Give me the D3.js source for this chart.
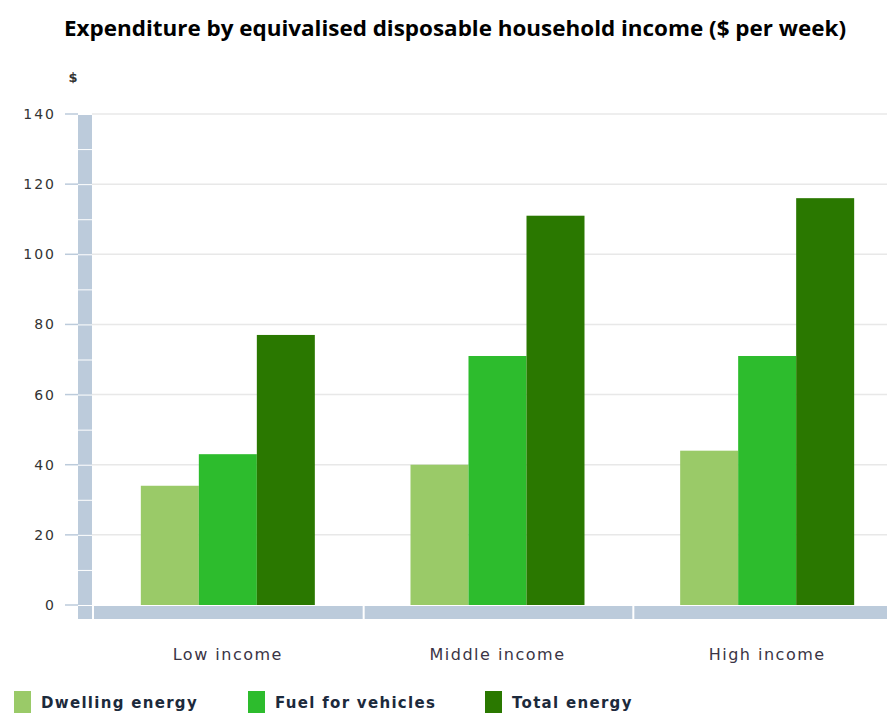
<!DOCTYPE html>
<html>
<head>
<meta charset="utf-8">
<script src="https://cdn.jsdelivr.net/npm/d3@7"></script>
<style>
  body { margin: 0; background: #fff; overflow: hidden; }
</style>
</head>
<body>
<div id="vis"></div>
<script>
// chart data
const categories = ["Low income", "Middle income", "High income"];
const seriesNames = ["Dwelling energy", "Fuel for vehicles", "Total energy"];
const dwelling = [34, 40, 44];
const fuel = [43, 71, 71];
const total = [77, 111, 116];
const yTicks = [0, 20, 40, 60, 80, 100, 120, 140];
const colors = ["#9aca68", "#2dbc2d", "#2a7800"];

const W = 887, H = 713;
const svg = d3.select("#vis").append("svg")
  .attr("width", W)
  .attr("height", H);

// title
svg.append("text")
  .attr("x", 455).attr("y", 36)
  .attr("text-anchor", "middle")
  .style("font-family", "'Open Sans', sans-serif")
  .style("font-weight", "bold")
  .style("font-size", "21px")
  .attr("textLength", 782)
  .attr("lengthAdjust", "spacingAndGlyphs")
  .text("Expenditure by equivalised disposable household income ($ per week)");

const plotLeft = 93, plotRight = 902;
const y = d3.scaleLinear().domain([0, 140]).range([605, 114]);
const x0 = d3.scaleBand().domain(categories).range([plotLeft, plotRight]);
const x1 = d3.scaleBand().domain(seriesNames).range([0, 174]);

// gridlines
svg.append("g").selectAll("line")
  .data(yTicks.filter(d => d > 0))
  .join("line")
  .attr("x1", 92).attr("x2", W)
  .attr("y1", d => y(d)).attr("y2", d => y(d))
  .attr("stroke", "#e8e8e8").attr("stroke-width", 1.5);

// segmented y axis column
const ySeg = d3.range(0, 140, 10);
svg.append("g").selectAll("rect")
  .data(ySeg)
  .join("rect")
  .attr("x", 78).attr("width", 14)
  .attr("y", d => y(d + 10) + 1)
  .attr("height", d => y(d) - y(d + 10) - 1)
  .attr("fill", "#bccbdb");
svg.append("rect")
  .attr("x", 78).attr("width", 14)
  .attr("y", 606).attr("height", 13)
  .attr("fill", "#bccbdb");

// y axis labels and tick marks
const yAxis = svg.append("g");
yAxis.selectAll("line")
  .data(yTicks)
  .join("line")
  .attr("x1", 65).attr("x2", 78)
  .attr("y1", d => y(d)).attr("y2", d => y(d))
  .attr("stroke", "#bccbdb").attr("stroke-width", 1.5);
yAxis.selectAll("text")
  .data(yTicks)
  .join("text")
  .attr("x", 56).attr("y", d => y(d) + 5)
  .attr("text-anchor", "end")
  .style("font-family", "'DejaVu Sans', Verdana, sans-serif")
  .style("font-size", "14px")
  .style("letter-spacing", "2px")
  .attr("fill", "#333")
  .text(d => d);

svg.append("text")
  .attr("x", 73).attr("y", 82)
  .attr("text-anchor", "middle")
  .style("font-family", "'DejaVu Sans', Verdana, sans-serif")
  .style("font-size", "13px")
  .style("font-weight", "bold")
  .attr("fill", "#333")
  .text("$");

// segmented x axis bar
svg.append("g").selectAll("rect")
  .data(categories)
  .join("rect")
  .attr("x", d => x0(d) + (d === categories[0] ? 1 : 2))
  .attr("width", d => x0.bandwidth() - (d === categories[0] ? 1 : 2))
  .attr("y", 606).attr("height", 13)
  .attr("fill", "#bccbdb");

// bars
const rows = categories.map((c, i) => ({cat: c, vals: [dwelling[i], fuel[i], total[i]]}));
const groups = svg.append("g").selectAll("g")
  .data(rows)
  .join("g")
  .attr("transform", d => `translate(${x0(d.cat) + (x0.bandwidth() - 174) / 2},0)`);
groups.selectAll("rect")
  .data(d => d.vals.map((v, j) => ({name: seriesNames[j], v: v, j: j})))
  .join("rect")
  .attr("x", d => x1(d.name))
  .attr("width", x1.bandwidth())
  .attr("y", d => y(d.v))
  .attr("height", d => y(0) - y(d.v))
  .attr("fill", d => colors[d.j]);

// category labels
svg.append("g").selectAll("text")
  .data(categories)
  .join("text")
  .attr("x", d => x0(d) + x0.bandwidth() / 2)
  .attr("y", 660)
  .attr("text-anchor", "middle")
  .style("font-family", "'DejaVu Sans', Verdana, sans-serif")
  .style("font-size", "16px")
  .style("letter-spacing", "1.5px")
  .attr("fill", "#3a3445")
  .text(d => d);

// legend
const legendX = [14, 248, 485];
const legend = svg.append("g").selectAll("g")
  .data(seriesNames)
  .join("g")
  .attr("transform", (d, i) => `translate(${legendX[i]},691)`);
legend.append("rect")
  .attr("width", 17).attr("height", 22)
  .attr("fill", (d, i) => colors[i]);
legend.append("text")
  .attr("x", 27).attr("y", 17)
  .style("font-family", "'DejaVu Sans', Verdana, sans-serif")
  .style("font-size", "15px")
  .style("font-weight", "bold")
  .style("letter-spacing", "1.3px")
  .attr("fill", "#1c2a3c")
  .text(d => d);
</script>
</body>
</html>
